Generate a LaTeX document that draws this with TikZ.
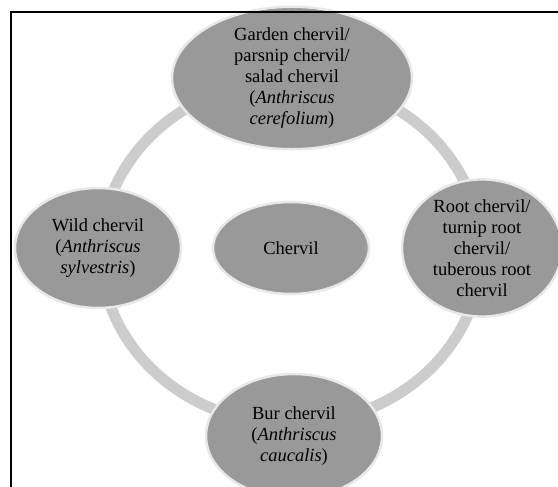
\documentclass[tikz,border=0pt]{standalone}
\usepackage{fontspec}
\setmainfont{Liberation Serif}
\usetikzlibrary{shapes.geometric}
\definecolor{nodefill}{HTML}{999999}
\definecolor{nodeedge}{HTML}{E8E8E8}
\definecolor{ringcol}{HTML}{CCCCCC}
\begin{document}
\begin{tikzpicture}[x=1pt,y=-1pt,
  bubble/.style={ellipse, fill=nodefill, draw=nodeedge, line width=2.5pt,
    inner sep=0pt, align=center, text=black,
    font=\fontsize{18.5}{21}\selectfont},
  ring/.style={draw=ringcol, line width=11pt},
  frame/.style={draw=black, line width=2pt}]
\useasboundingbox (0,0) rectangle (558,487);
% ring
\coordinate (ringc) at (291,252);
\draw[ring] (ringc) ellipse [x radius=190, y radius=172];
% nodes
\node[bubble, minimum width=240pt, minimum height=130pt] (top) at (292,78)
  {Garden chervil/\\parsnip chervil/\\salad chervil\\(\textit{Anthriscus}\\\textit{cerefolium})};
\node[bubble, minimum width=166pt, minimum height=120pt] (left) at (98,248)
  {Wild chervil\\(\textit{Anthriscus}\\\textit{sylvestris})};
\node[bubble, minimum width=160pt, minimum height=118pt] (right) at (482,248)
  {Root chervil/\\turnip root\\chervil/\\tuberous root\\chervil};
\node[bubble, minimum width=176pt, minimum height=124pt] (bottom) at (294,436)
  {Bur chervil\\(\textit{Anthriscus}\\\textit{caucalis})};
\node[bubble, minimum width=156pt, minimum height=92pt] (center) at (291,248)
  {Chervil};
% frame
\draw[frame] (11,487) -- (11,12) -- (558,12);
\end{tikzpicture}
\end{document}
